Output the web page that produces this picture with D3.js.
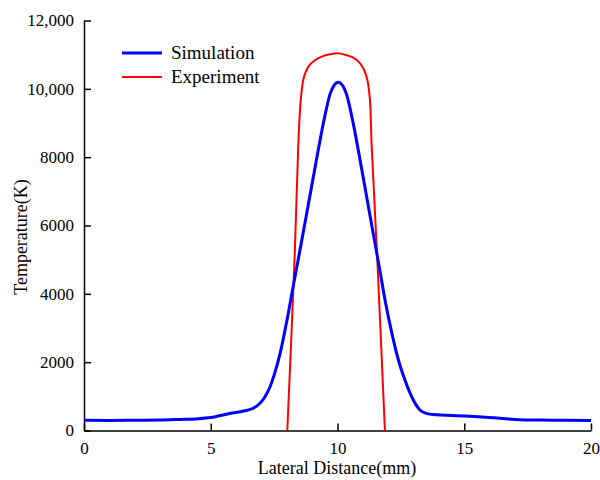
<!DOCTYPE html>
<head>
  <meta charset="utf-8">
  <script src="https://d3js.org/d3.v7.min.js"></script>
  <style>
    body { margin:0; background:#fff; }
    text { font-family: "Liberation Serif", "Times New Roman", serif; }
  </style>
</head>
<body>
<script>
  var width = 600, height = 480;

  var simX = [0, 1, 2, 3, 3.8, 4.5, 5, 5.75, 6.3, 6.68, 6.94, 7.14, 7.34, 7.5, 7.75, 8.0, 8.26, 8.52, 8.78, 9.05, 9.3, 9.5, 9.7, 9.87, 10.03, 10.19, 10.36, 10.62, 10.89, 11.15, 11.4, 11.65, 11.9, 12.15, 12.4, 12.66, 12.99, 13.25, 13.5, 13.9, 14.5, 15, 16, 17, 18, 19, 20];
  var simT = [300, 295, 300, 305, 325, 345, 380, 500, 570, 650, 795, 990, 1280, 1620, 2300, 3200, 4250, 5280, 6330, 7430, 8450, 9200, 9830, 10110, 10190, 10110, 9830, 8990, 7920, 6840, 5800, 4780, 3720, 2830, 2070, 1478, 893, 600, 500, 460, 440, 425, 380, 325, 305, 300, 290];

  var expX = [8.02, 8.31, 8.45, 8.55, 8.65, 8.75, 8.9, 9.1, 9.4, 9.7, 10.0, 10.3, 10.6, 10.85, 11.05, 11.18, 11.28, 11.35, 11.57, 11.87];
  var expT = [0, 5100, 8300, 9670, 10260, 10500, 10700, 10830, 10950, 11010, 11040, 11000, 10920, 10780, 10550, 10260, 9670, 8300, 5000, 0];

  var xTicks = [0, 5, 10, 15, 20];
  var yTicks = [0, 2000, 4000, 6000, 8000, 10000, 12000];
  var seriesNames = ["Simulation", "Experiment"];
  var seriesColors = ["#0000ff", "#ff0000"];

  var svg = d3.select("body").append("svg")
    .attr("width", width)
    .attr("height", height);

  var x = d3.scaleLinear().domain([0, 20]).range([84, 591]);
  var y = d3.scaleLinear().domain([0, 12000]).range([430.5, 20.5]);

  var fmt = function(d) { return d >= 10000 ? d3.format(",")(d) : d; };

  svg.append("g")
    .attr("transform", "translate(0,430.5)")
    .call(d3.axisBottom(x).tickValues(xTicks).tickSize(-7).tickSizeOuter(0).tickPadding(11));
  svg.append("g")
    .attr("transform", "translate(84,0)")
    .call(d3.axisLeft(y).tickValues(yTicks).tickFormat(fmt).tickSize(-7).tickSizeOuter(0).tickPadding(10));

  svg.selectAll(".tick text")
    .attr("font-family", "Liberation Serif")
    .attr("font-size", 17)
    .attr("fill", "#000");
  svg.selectAll(".domain, .tick line").attr("stroke", "#000").attr("stroke-width", 1.5);

  var simLine = d3.line()
    .x(function(d) { return x(d[0]); })
    .y(function(d) { return y(d[1]); })
    .curve(d3.curveMonotoneX);
  var expLine = d3.line()
    .x(function(d) { return x(d[0]); })
    .y(function(d) { return y(d[1]); })
    .curve(d3.curveCatmullRom);

  var simData = simX.map(function(v, i) { return [v, simT[i]]; });
  var expData = expX.map(function(v, i) { return [v, expT[i]]; });

  svg.append("path").datum(expData)
    .attr("d", expLine)
    .attr("fill", "none")
    .attr("stroke", seriesColors[1])
    .attr("stroke-width", 2);

  svg.append("path").datum(simData)
    .attr("d", simLine)
    .attr("fill", "none")
    .attr("stroke", seriesColors[0])
    .attr("stroke-width", 3);

  // legend
  var lg = svg.append("g").attr("transform", "translate(122,53)");
  lg.selectAll("line").data(seriesNames).enter().append("line")
    .attr("x1", 0).attr("x2", 40)
    .attr("y1", function(d, i) { return i * 24; })
    .attr("y2", function(d, i) { return i * 24; })
    .attr("stroke", function(d, i) { return seriesColors[i]; })
    .attr("stroke-width", function(d, i) { return i == 0 ? 3 : 2; });
  lg.selectAll("text").data(seriesNames).enter().append("text")
    .attr("x", 49)
    .attr("y", function(d, i) { return i * 24 + 6; })
    .attr("font-size", 19)
    .text(function(d) { return d; });

  svg.append("text")
    .attr("x", 337).attr("y", 474)
    .attr("text-anchor", "middle")
    .attr("font-size", 18)
    .text("Lateral Distance(mm)");

  svg.append("text")
    .attr("transform", "translate(27,237) rotate(-90)")
    .attr("text-anchor", "middle")
    .attr("font-size", 18)
    .text("Temperature(K)");
</script>
</body>
